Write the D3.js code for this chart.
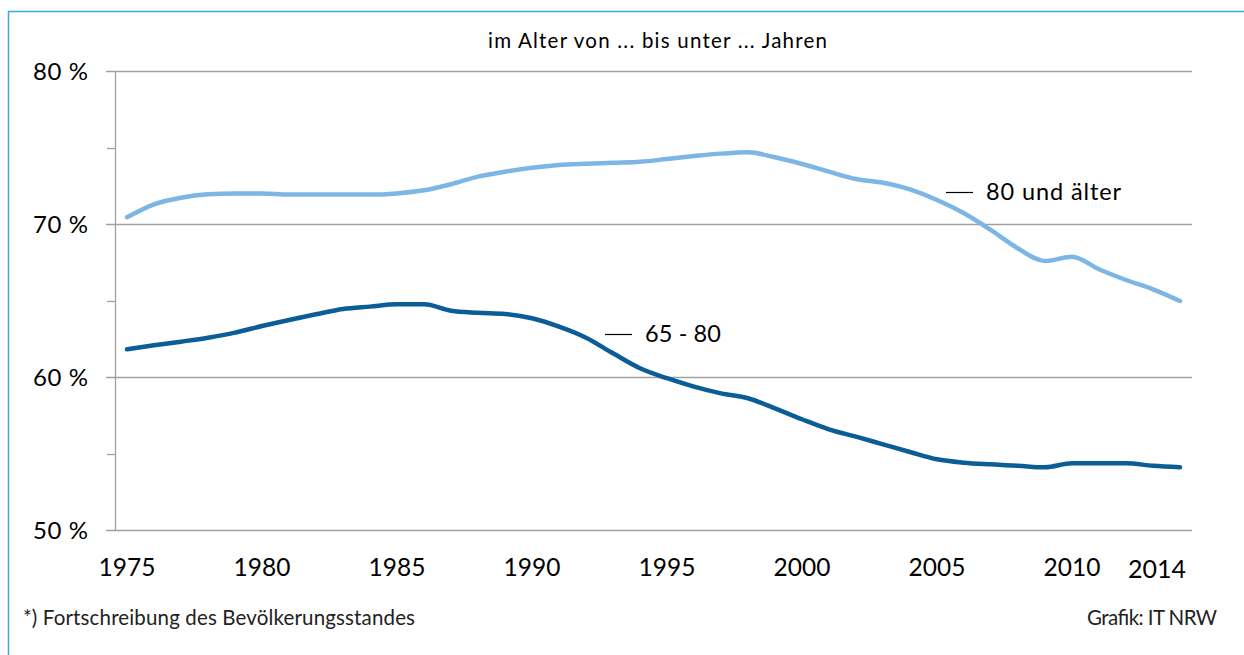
<!DOCTYPE html>
<html>
<head>
<meta charset="utf-8">
<script src="https://cdn.jsdelivr.net/npm/d3@7"></script>
<style>
    body { margin: 0; background: #fff; }
    text { font-family: Lato, "Noto Sans", sans-serif; }
</style>
</head>
<body>
<div id="chart"></div>
<script>
const width = 1244;
const height = 655;

const years = d3.range(1975, 2015);
const yTicks = [50, 60, 70, 80];
const yMinorTicks = [55, 65, 75];
const xLabelYears = [1975, 1980, 1985, 1990, 1995, 2000, 2005, 2010, 2014];

// Anteil in % – 80 und älter
const older = [
    70.44, 71.29, 71.72, 71.94, 72.0, 72.0, 71.92, 71.92, 71.92, 71.92,
    72.0, 72.2, 72.6, 73.1, 73.42, 73.68, 73.86, 73.94, 74.0, 74.07,
    74.25, 74.44, 74.6, 74.69, 74.36, 73.92, 73.42, 72.94, 72.7, 72.27,
    71.57, 70.7, 69.6, 68.4, 67.58, 67.86, 67.04, 66.34, 65.73, 64.97
];
// Anteil in % – 65 - 80
const younger = [
    61.81, 62.07, 62.31, 62.57, 62.9, 63.33, 63.73, 64.1, 64.44, 64.6,
    64.75, 64.75, 64.33, 64.2, 64.12, 63.84, 63.29, 62.57, 61.55, 60.57,
    59.92, 59.37, 58.93, 58.61, 57.95, 57.24, 56.58, 56.1, 55.6, 55.1,
    54.62, 54.4, 54.29, 54.2, 54.1, 54.36, 54.36, 54.36, 54.2, 54.1
];

const svg = d3.select('#chart').append('svg')
    .attr('width', width)
    .attr('height', height);

// frame (only top and left edge are visible)
svg.append('path')
    .attr('d', `M8.5,${height} V11.5 H${width}`)
    .attr('fill', 'none')
    .attr('stroke', '#3aa9e2')
    .attr('stroke-width', 1.5);

const x = d3.scaleLinear().domain([1975, 2014]).range([127, 1180]);
const y = d3.scaleLinear().domain([50, 80]).range([530, 71]);
const plotLeft = 115;
const plotRight = 1192;

// grid lines
svg.append('g')
    .selectAll('line')
    .data(yTicks)
    .join('line')
    .attr('x1', plotLeft - 9)
    .attr('x2', plotRight)
    .attr('y1', d => Math.round(y(d)) + 0.5)
    .attr('y2', d => Math.round(y(d)) + 0.5)
    .attr('stroke', '#a0a0a0')
    .attr('stroke-width', 1.3);

// minor ticks
svg.append('g')
    .selectAll('line')
    .data(yMinorTicks)
    .join('line')
    .attr('x1', plotLeft - 8)
    .attr('x2', plotLeft)
    .attr('y1', d => Math.round(y(d)) + 0.5)
    .attr('y2', d => Math.round(y(d)) + 0.5)
    .attr('stroke', '#a0a0a0')
    .attr('stroke-width', 1.3);

// y axis line
svg.append('line')
    .attr('x1', plotLeft + 0.5)
    .attr('x2', plotLeft + 0.5)
    .attr('y1', y(80))
    .attr('y2', y(50))
    .attr('stroke', '#a0a0a0')
    .attr('stroke-width', 1.3);

// y labels
svg.append('g')
    .selectAll('text')
    .data(yTicks)
    .join('text')
    .attr('x', 88)
    .attr('y', d => y(d) + 8.5)
    .attr('text-anchor', 'end')
    .attr('font-size', '24px')
    .attr('fill', '#000')
    .attr('textLength', 55)
    .attr('lengthAdjust', 'spacing')
    .text(d => `${d} %`);

// x labels
svg.append('g')
    .selectAll('text')
    .data(xLabelYears)
    .join('text')
    .attr('x', d => d === 2014 ? x(d) - 23 : x(d))
    .attr('y', d => d === 2014 ? 578 : 576)
    .attr('text-anchor', 'middle')
    .attr('font-size', d => d === 2014 ? '25px' : '24.5px')
    .attr('fill', '#000')
    .text(d => d);

// title
svg.append('text')
    .attr('x', 488)
    .attr('y', 48)
    .attr('font-size', '20.5px')
    .attr('fill', '#000')
    .attr('textLength', 339)
    .attr('lengthAdjust', 'spacing')
    .text('im Alter von ... bis unter ... Jahren');

const line = d3.line()
    .x((d, i) => x(years[i]))
    .y(d => y(d))
    .curve(d3.curveMonotoneX);

svg.append('path')
    .datum(older)
    .attr('d', line)
    .attr('fill', 'none')
    .attr('stroke', '#7db6e4')
    .attr('stroke-width', 4.5)
    .attr('stroke-linecap', 'round');

svg.append('path')
    .datum(younger)
    .attr('d', line)
    .attr('fill', 'none')
    .attr('stroke', '#0b5d97')
    .attr('stroke-width', 4.5)
    .attr('stroke-linecap', 'round');

// series labels
const seriesLabels = [
    { name: '65 - 80', x: 605, y: 342, w: 76 },
    { name: '80 und älter', x: 946, y: 200, w: 135 }
];
const lg = svg.append('g')
    .selectAll('g')
    .data(seriesLabels)
    .join('g')
    .attr('transform', d => `translate(${d.x}, ${d.y})`);
lg.append('line')
    .attr('x1', 0)
    .attr('x2', 27)
    .attr('y1', -7.5)
    .attr('y2', -7.5)
    .attr('stroke', '#000')
    .attr('stroke-width', 1.2);
lg.append('text')
    .attr('x', 40)
    .attr('y', 0)
    .attr('font-size', '23.5px')
    .attr('fill', '#000')
    .attr('textLength', d => d.w)
    .attr('lengthAdjust', 'spacing')
    .text(d => d.name);

// footer
svg.append('text')
    .attr('x', 23)
    .attr('y', 625)
    .attr('font-size', '20.5px')
    .attr('fill', '#222')
    .attr('textLength', 392)
    .attr('lengthAdjust', 'spacing')
    .text('*) Fortschreibung des Bevölkerungsstandes');

svg.append('text')
    .attr('x', 1087)
    .attr('y', 625)
    .attr('font-size', '20.5px')
    .attr('fill', '#222')
    .attr('textLength', 130)
    .attr('lengthAdjust', 'spacing')
    .text('Grafik: IT NRW');
</script>
</body>
</html>
